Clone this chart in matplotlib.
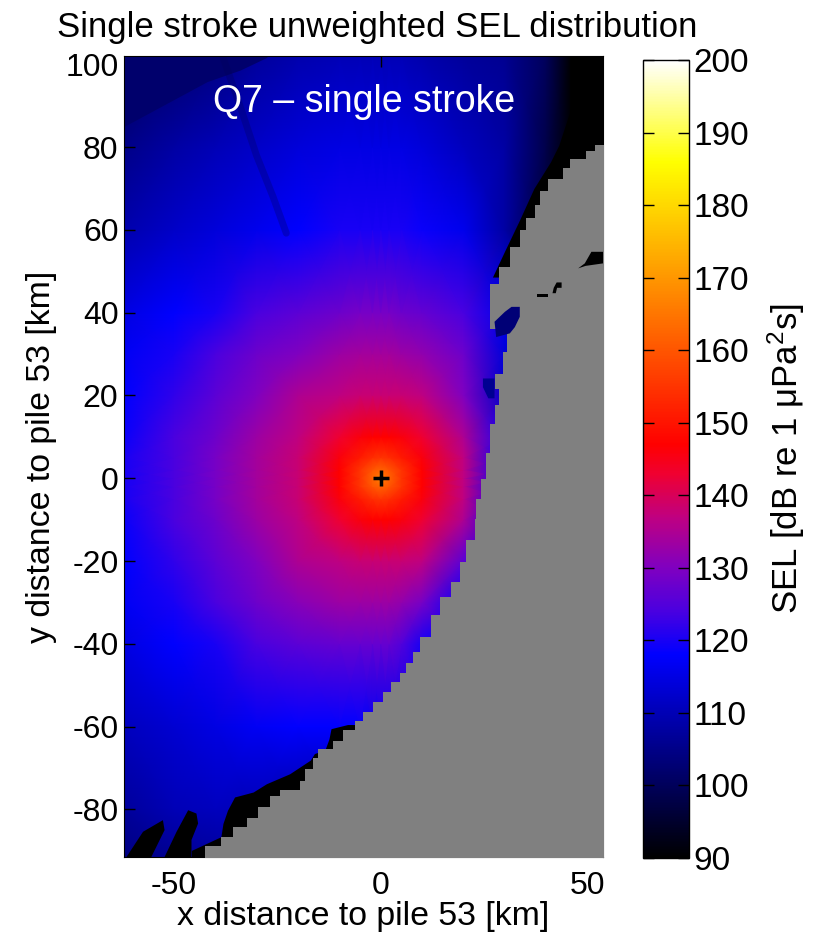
import numpy as np
import matplotlib
matplotlib.use('Agg')
import matplotlib.pyplot as plt
from matplotlib.colors import LinearSegmentedColormap, Normalize

plt.rcParams['font.family'] = ['Liberation Sans', 'DejaVu Sans']
plt.rcParams['mathtext.fontset'] = 'custom'
plt.rcParams['mathtext.rm'] = 'Liberation Sans'
plt.rcParams['mathtext.it'] = 'Liberation Sans'
plt.rcParams['mathtext.default'] = 'regular'
plt.rcParams['axes.unicode_minus'] = False

# SEL [dB], km from pile 53
grid_x = [-62, -50, -40, -30, -20, -10, -5, -2, 0, 2, 5, 10, 20, 30, 40, 46, 54]
grid_y = [-92, -80, -60, -40, -30, -20, -10, -5, -2, 0, 2, 5, 10, 20, 30, 40, 60, 80, 102]
sel = [
    [104, 106, 107, 108, 110, 110, 110, 110, 110, 110, 110, 110, 110, 110, 110, 110, 110],
    [107, 110, 111, 110, 108, 106, 106, 106, 106, 106, 106, 106, 106, 106, 106, 106, 106],
    [111, 113, 115, 117, 118, 118, 118, 117, 117, 117, 116, 116, 112, 110, 110, 110, 110],
    [115, 118, 120, 124, 126, 127, 127, 127, 127, 127, 125, 120, 116, 112, 110, 110, 110],
    [117, 120, 124, 128, 131, 133, 133, 133, 133, 133, 132, 129, 118, 112, 110, 110, 110],
    [118, 122, 126, 130, 135, 137, 138, 138, 138, 138, 138, 137, 126, 115, 110, 110, 110],
    [119, 124, 128, 133, 137, 143, 146, 147, 147, 147, 146, 143, 135, 118, 110, 110, 110],
    [120, 124, 129, 134, 138, 146, 151, 154, 155, 154, 151, 146, 137, 118, 110, 110, 110],
    [120, 124, 129, 134, 138, 147, 155, 160, 162, 160, 155, 147, 137, 118, 110, 110, 110],
    [120, 124, 129, 134, 138, 147, 155, 162, 167, 162, 155, 147, 137, 118, 110, 110, 110],
    [120, 124, 129, 134, 138, 147, 155, 160, 162, 160, 155, 147, 137, 118, 110, 110, 110],
    [120, 124, 129, 134, 138, 146, 151, 154, 155, 154, 151, 146, 137, 118, 110, 110, 110],
    [119, 124, 128, 133, 137, 143, 146, 147, 147, 147, 146, 143, 135, 120, 110, 110, 110],
    [118, 122, 126, 130, 135, 137, 138, 138, 138, 138, 138, 137, 130, 112, 110, 110, 110],
    [117, 120, 124, 128, 130, 133, 134, 134, 134, 134, 133, 132, 128, 114, 110, 110, 110],
    [115, 118, 120, 124, 126, 128, 129, 129, 129, 129, 128, 127, 124, 116, 105, 100, 100],
    [109, 112, 114, 116, 118, 120, 120, 120, 120, 120, 120, 119, 116, 108, 96, 90, 85],
    [105, 108, 110, 112, 114, 115, 115, 115, 115, 115, 115, 114, 111, 108, 98, 90, 82],
    [100, 102, 104, 107, 109, 110, 110, 110, 110, 110, 110, 109, 107, 106, 100, 90, 80],
]

# coast line, land is east of it
coast_y = [-92, -89.9, -87.8, -85.4, -83, -81, -77.8, -75.8, -74.6, -71.7, -68.9, -66.1, -64.9,
           -62.1, -59.7, -57.7, -55.2, -52.8, -50.4, -48, -46, -43.2, -40.7, -35.9, -30.2, -27,
           -23, -17.4, -12.6, -6.9, -2.9, 2.7, 9.6, 16.4, 18.8, 24.1, 26.1, 35, 37, 45.4, 48.6,
           53.5, 58.3, 61.5, 64, 68, 70.8, 73.6, 76.4, 77.6, 80.4]
coast_x = [-42.5, -42.5, -38.5, -35.7, -32.4, -29.6, -26.8, -24.4, -19.6, -18.4, -16.3, -15.1, -11.5,
           -9.1, -6.3, -4.3, -1.9, 0.6, 2.6, 4.6, 6.2, 7.8, 9.4, 12.2, 14.3, 17.1,
           19.1, 20.7, 22.7, 23.1, 24.3, 25.5, 26.3, 27.5, 28.5, 27.5, 29.5, 30.4, 26.3, 26.3, 28.7,
           31.2, 33.6, 35.2, 37.2, 38.4, 40.4, 44, 45.7, 49.7, 51.7]

# black areas (SEL below scale) next to the coast
south_black_y = [-92, -89.9, -86.6, -83.4, -80.2, -77, -75.8, -73.8, -71.4, -68.1, -66.5, -65.7, -63, -60.5, -59.5]
south_black_x = [-45.7, -45.7, -38.6, -38.1, -37, -35.3, -30.8, -27.6, -22, -17, -16, -13.5, -12.5, -12, -8]
north_black_y = [48.6, 55, 62.3, 70, 76.4, 80.4, 88, 95.4, 102]
north_black_x = [27, 30, 33.5, 37, 41, 43, 45.5, 47.9, 49.7]
finger1_x = [-61.4, -57.4, -52.6, -52.2, -55.4]
finger1_y = [-91.5, -85.4, -82.6, -85, -91.5]
finger2_x = [-52.2, -49.3, -46.5, -44.5, -44.1, -45.7, -45.7]
finger2_y = [-91.5, -85.4, -80.2, -81, -83.4, -87.4, -91.5]

# inside the land
bay_x = [33.6, 33.6, 32.4, 31.2, 27.9, 27.5, 30, 31.6]
bay_y = [41.4, 39, 36.5, 35, 34.1, 37.8, 40.2, 41.4]
lake1_x = [37.7, 40.3, 40.3, 37.7]
lake1_y = [43.9, 43.9, 44.6, 44.6]
lake2_x = [41.5, 42.3, 42.6, 43.7, 43.7, 42.5, 41.8]
lake2_y = [44.7, 44.7, 46, 46, 47.3, 47.3, 46]
lake3_x = [47.7, 49.3, 50.9, 53.7, 53.7, 49.5]
lake3_y = [50.7, 51.9, 54.7, 54.7, 51.9, 51.3]

# darker patch on the shore north of the pile
shoal_x = [24.7, 27.5, 27.5, 26, 24.7]
shoal_y = [24.1, 24.1, 19.3, 19.3, 22]

# darker corner and streak at the top left
corner_x = [-62, -41.8, -33.8, -27.5, -27, -62]
corner_y = [84.8, 95.7, 98.5, 101.5, 102, 102]
streak_x = [-38.1, -34, -30, -26, -22.8]
streak_y = [101.7, 90, 78, 68, 59.2]

cbar_ticks = [90, 100, 110, 120, 130, 140, 150, 160, 170, 180, 190, 200]

# colour stops: SEL value, colour
stop_sel = [90, 118, 124, 130, 137, 143, 147, 186, 200]
stop_col = ['#000000', '#0000ff', '#4a00e0', '#8000c0', '#c00080', '#f00030', '#ff0000', '#ffff00', '#ffffff']

cmap = LinearSegmentedColormap.from_list(
    'sel', [((s - 90) / 110, c) for s, c in zip(stop_sel, stop_col)], N=512)
norm = Normalize(90, 200)

W, H = 817, 940
fig = plt.figure(figsize=(W / 100, H / 100), dpi=100)
ax = fig.add_axes([124 / W, 1 - 857 / H, (603 - 124) / W, (857 - 56) / H])
cax = fig.add_axes([643 / W, 1 - 858 / H, (689 - 643) / W, (858 - 60) / H])

mesh = ax.pcolormesh(grid_x, grid_y, np.array(sel), cmap=cmap, norm=norm, shading='gouraud')
ax.fill(corner_x, corner_y, color=cmap(norm(102)), lw=0, zorder=2)
ax.plot(streak_x, streak_y, color=cmap(norm(100)), lw=5, alpha=0.3, zorder=2, solid_capstyle='round')

ax.fill_betweenx(south_black_y, south_black_x, 60, color='k', lw=0, zorder=3)
ax.fill_betweenx(north_black_y, north_black_x, 60, color='k', lw=0, zorder=3)
ax.fill(finger1_x, finger1_y, color='k', lw=0, zorder=3)
ax.fill(finger2_x, finger2_y, color='k', lw=0, zorder=3)
ax.fill(shoal_x, shoal_y, color=cmap(norm(106)), lw=0, zorder=3)

ax.fill_betweenx(coast_y, coast_x, 60, step='mid', color='#808080', lw=0, zorder=4)
ax.fill(bay_x, bay_y, color=cmap(norm(103)), lw=0, zorder=5)
for lx, ly in [(lake1_x, lake1_y), (lake2_x, lake2_y), (lake3_x, lake3_y)]:
    ax.fill(lx, ly, color='k', lw=0, zorder=5)

ax.plot([0], [0], '+', color='k', ms=11, mew=2.5, zorder=6)
ax.text(-4, 91, 'Q7 – single stroke', color='w', fontsize=27, ha='center', va='center', zorder=7)

ax.set_xlim(-62, 53.7)
ax.set_ylim(-91.5, 102)
ax.set_xticks([-50, 0, 50])
ax.set_yticks([-80, -60, -40, -20, 0, 20, 40, 60, 80, 100])
ax.tick_params(direction='in', top=True, right=True, length=8, width=1, labelsize=23, pad=4)
ax.tick_params(axis='x', pad=10)
ax.set_xlabel('x distance to pile 53 [km]', fontsize=24.4, labelpad=0)
ax.set_ylabel('y distance to pile 53 [km]', fontsize=24.4, labelpad=6)
ax.set_title('Single stroke unweighted SEL distribution', fontsize=25, x=0.528, pad=14)

cb = fig.colorbar(mesh, cax=cax, ticks=cbar_ticks)
cax.tick_params(direction='in', left=True, right=True, length=8, width=1, labelsize=24, pad=3)
cb.set_label(r'SEL [dB re 1 $\mu$Pa$^2$s]', fontsize=25, labelpad=12)
cb.outline.set_linewidth(1)

fig.savefig('out.png', dpi=100)
